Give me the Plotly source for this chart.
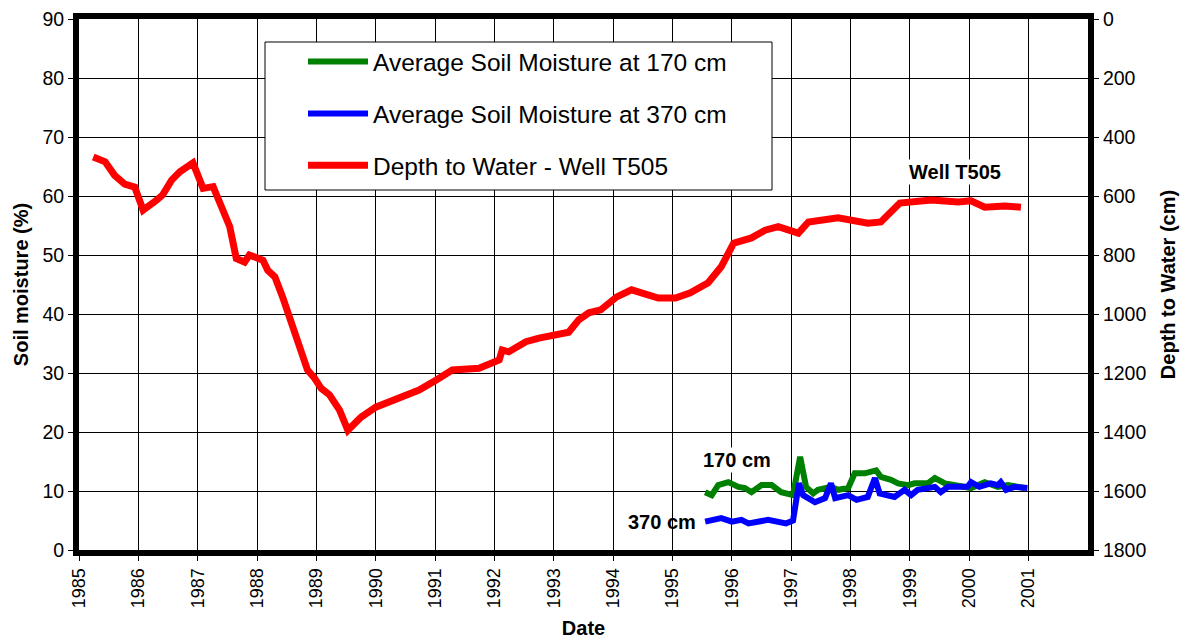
import plotly.graph_objects as go

# Depth to water - Well T505 (cm), decimal year
well_year = [1985.24, 1985.44, 1985.6, 1985.77, 1985.94, 1986.08, 1986.31, 1986.41, 1986.56, 1986.7,
             1986.92, 1987.09, 1987.26, 1987.43, 1987.54, 1987.65, 1987.79, 1987.87, 1988.1, 1988.18,
             1988.3, 1988.43, 1988.55, 1988.6, 1988.71, 1988.85, 1988.97, 1989.08, 1989.22, 1989.39,
             1989.53, 1989.75, 1990.0, 1990.39, 1990.73, 1991.02, 1991.29, 1991.74, 1992.08, 1992.13,
             1992.24, 1992.53, 1992.75, 1993.25, 1993.42, 1993.59, 1993.79, 1994.06, 1994.31, 1994.76,
             1995.05, 1995.3, 1995.6, 1995.82, 1996.03, 1996.33, 1996.56, 1996.78, 1997.07, 1997.12,
             1997.29, 1997.79, 1998.29, 1998.51, 1998.83, 1999.02, 1999.36, 1999.81, 2000.03, 2000.26,
             2000.6, 2000.87]
well_depth = [468, 484, 530, 560, 570, 648, 614, 596, 546, 518,
              488, 574, 568, 648, 704, 812, 824, 800, 818, 852,
              874, 942, 1010, 1038, 1100, 1190, 1218, 1252, 1274, 1326,
              1394, 1350, 1316, 1284, 1258, 1224, 1190, 1184, 1156, 1122,
              1128, 1094, 1082, 1062, 1020, 996, 986, 942, 918, 946,
              946, 928, 894, 840, 760, 742, 716, 704, 722, 726,
              688, 674, 692, 688, 624, 620, 614, 620, 616, 638,
              634, 638]

# Average soil moisture at 170 cm (%)
sm170_year = [1995.55, 1995.66, 1995.77, 1995.94, 1996.11, 1996.22, 1996.33, 1996.5, 1996.67, 1996.83,
              1997.03, 1997.15, 1997.25, 1997.37, 1997.45, 1997.67, 1997.79, 1997.96, 1998.07, 1998.24,
              1998.43, 1998.51, 1998.68, 1998.8, 1998.97, 1999.08, 1999.3, 1999.42, 1999.59, 1999.81,
              2000.03, 2000.26, 2000.48, 2000.65, 2000.93]
sm170 = [9.8, 9.3, 11.0, 11.5, 10.7, 10.5, 9.8, 11.0, 11.0, 9.8,
         9.3, 15.8, 10.7, 9.6, 10.2, 10.7, 10.2, 10.5, 13.0, 13.0,
         13.5, 12.4, 11.9, 11.3, 11.0, 11.3, 11.3, 12.2, 11.3, 11.0,
         10.5, 11.5, 10.7, 11.0, 10.5]

# Average soil moisture at 370 cm (%)
sm370_year = [1995.55, 1995.82, 1996.0, 1996.16, 1996.28, 1996.5, 1996.61, 1996.91, 1997.03, 1997.13,
              1997.2, 1997.4, 1997.57, 1997.67, 1997.74, 1997.96, 1998.1, 1998.29, 1998.41, 1998.49,
              1998.74, 1998.91, 1999.02, 1999.13, 1999.42, 1999.52, 1999.64, 1999.97, 2000.03, 2000.17,
              2000.36, 2000.48, 2000.53, 2000.62, 2000.76, 2000.98]
sm370 = [4.8, 5.4, 4.8, 5.1, 4.5, 4.8, 5.1, 4.5, 5.0, 11.3,
         9.3, 8.1, 8.8, 11.3, 8.8, 9.3, 8.5, 9.0, 12.2, 9.6,
         9.0, 10.2, 9.3, 10.2, 10.7, 9.8, 10.7, 10.7, 11.5, 10.7,
         11.3, 11.0, 11.5, 10.2, 10.7, 10.5]

year_ticks = list(range(1985, 2002))
year_labels = [str(y) for y in year_ticks]

FONT = "Arial, Liberation Sans, sans-serif"

fig = go.Figure()
fig.add_trace(go.Scatter(x=sm170_year, y=sm170, mode="lines", name="Average Soil Moisture at 170 cm",
                         line=dict(color="#008000", width=6), legendgroup="a"))
fig.add_trace(go.Scatter(x=sm370_year, y=sm370, mode="lines", name="Average Soil Moisture at 370 cm",
                         line=dict(color="#0000ff", width=6), legendgroup="b"))
fig.add_trace(go.Scatter(x=well_year, y=well_depth, mode="lines", name="Depth to Water - Well T505",
                         line=dict(color="#ff0000", width=7), yaxis="y2", legendgroup="c"))

fig.update_layout(
    width=1188, height=640,
    margin=dict(l=71, r=108, t=11, b=98, autoexpand=False),
    paper_bgcolor="white", plot_bgcolor="white",
    font=dict(family=FONT, color="black", size=18),
    xaxis=dict(range=[1985, 2002], tickvals=year_ticks, ticktext=year_labels, tickangle=-90,
               showgrid=True, gridcolor="black", gridwidth=1,
               showline=True, linecolor="black", linewidth=6, mirror=True,
               ticks="outside", ticklen=5, tickcolor="black", automargin=False,
               ticklabeloverflow="allow",
               title=dict(text="<b>Date</b>", font=dict(size=20), standoff=16),
               tickfont=dict(size=18), zeroline=False),
    yaxis=dict(range=[0, 90], dtick=10, showgrid=True, gridcolor="black", gridwidth=1,
               showline=True, linecolor="black", linewidth=6, mirror=True,
               ticks="outside", ticklen=5, tickcolor="black", automargin=False,
               ticklabeloverflow="allow",
               title=dict(text="<b>Soil moisture (%)</b>", font=dict(size=20), standoff=10),
               tickfont=dict(size=19.5), zeroline=False),
    yaxis2=dict(range=[1800, 0], dtick=200, overlaying="y", side="right", showgrid=False,
                showline=True, linecolor="black", linewidth=6,
                ticks="outside", ticklen=5, tickcolor="black", automargin=False,
                ticklabeloverflow="allow",
                title=dict(text="<b>Depth to Water (cm)</b>", font=dict(size=20), standoff=18),
                tickfont=dict(size=19.5), zeroline=False),
    legend=dict(x=0.222, y=0.962, xanchor="left", yanchor="top",
                bgcolor="rgba(0,0,0,0)", borderwidth=0,
                font=dict(size=24.5), tracegroupgap=17, itemwidth=60),
    showlegend=True,
    shapes=[
        dict(type="rect", xref="paper", yref="paper",
             x0=(265 - 79) / 1009, x1=(772 - 79) / 1009,
             y0=(550 - 190) / 531, y1=(550 - 42) / 531,
             line=dict(color="black", width=1), fillcolor="white", layer="above"),
    ],
    annotations=[
        dict(x=1999.76, y=518, xref="x", yref="y2", text="<b>Well T505</b>", showarrow=False,
             font=dict(size=20), bgcolor="white"),
        dict(x=1996.09, y=15.25, xref="x", yref="y", text="<b>170 cm</b>", showarrow=False,
             font=dict(size=20), bgcolor="white"),
        dict(x=1994.82, y=4.75, xref="x", yref="y", text="<b>370 cm</b>", showarrow=False,
             font=dict(size=20)),
    ],
)

fig.write_html("out.html")
